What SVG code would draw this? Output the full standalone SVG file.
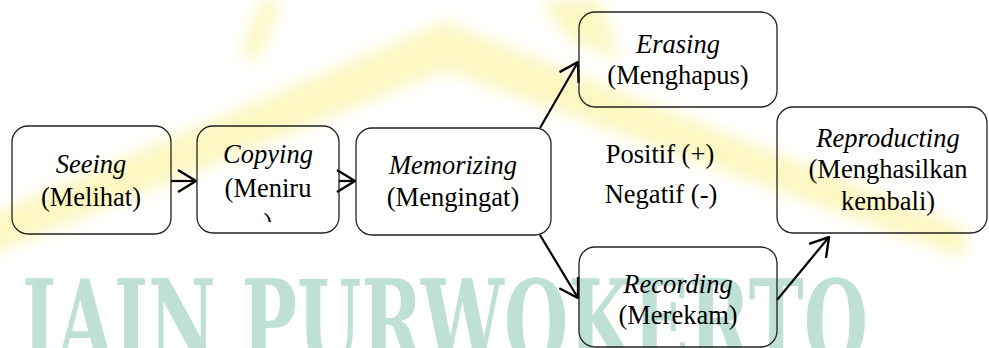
<svg xmlns="http://www.w3.org/2000/svg" width="989" height="348" viewBox="0 0 989 348">
<defs>
<style>
.box{fill:none;stroke:#222;stroke-width:1.3}
.t{font-family:"Liberation Serif","Times New Roman",serif;font-size:26.5px;fill:#000;text-anchor:middle}
.i{font-style:italic}
.c{fill:none;stroke:#000;stroke-width:2.2}
.wm{font-family:"DejaVu Serif","Liberation Serif",serif;font-weight:bold;font-size:115px;fill:#bfe0d6}
</style>
<marker id="ah" viewBox="0 0 20 24" refX="19" refY="12" markerWidth="20" markerHeight="24" markerUnits="userSpaceOnUse" orient="auto">
<path d="M1,1 L19,12 L1,23" fill="none" stroke="#000" stroke-width="2.4"/>
</marker>
<filter id="blur" x="-10%" y="-10%" width="120%" height="120%"><feGaussianBlur stdDeviation="8"/></filter>
<clipPath id="cpCopy"><rect x="197" y="126" width="142" height="96"/></clipPath>
</defs>
<g id="watermark">
<g filter="url(#blur)" fill="#fbf296" opacity="0.6">
<polygon points="-10,215 445,22 965,228 965,258 445,70 -10,255"/>
<polygon points="240,55 262,0 282,0 258,60"/>
<polygon points="540,0 600,0 620,60 570,40"/>
</g>
<text class="wm" x="22" y="362" textLength="846" lengthAdjust="spacingAndGlyphs">IAIN PURWOKERTO</text>
</g>
<g id="connectors">
<line class="c" x1="171" y1="181" x2="196" y2="181" marker-end="url(#ah)"/>
<line class="c" x1="339" y1="181" x2="355" y2="181" marker-end="url(#ah)"/>
<line class="c" x1="540" y1="128" x2="578" y2="62" marker-end="url(#ah)"/>
<line class="c" x1="540" y1="235" x2="578" y2="298" marker-end="url(#ah)"/>
<line class="c" x1="777" y1="300" x2="829" y2="237" marker-end="url(#ah)"/>
</g>
<g id="nodes">
<g id="seeing">
<rect class="box" x="12" y="126" width="159" height="108" rx="16"/>
<text class="t i" x="91" y="173">Seeing</text>
<text class="t" x="91" y="206">(Melihat)</text>
</g>
<g id="copying">
<rect class="box" x="197" y="126" width="142" height="107" rx="16"/>
<text class="t i" x="268" y="163">Copying</text>
<text class="t" x="268" y="197">(Meniru</text>
<text class="t" x="268" y="232" clip-path="url(#cpCopy)">)</text>
</g>
<g id="memorizing">
<rect class="box" x="356" y="128" width="195" height="107" rx="16"/>
<text class="t i" x="453" y="174">Memorizing</text>
<text class="t" x="453" y="206">(Mengingat)</text>
</g>
<g id="erasing">
<rect class="box" x="579" y="12" width="198" height="95" rx="16"/>
<text class="t i" x="678" y="53">Erasing</text>
<text class="t" x="678" y="84">(Menghapus)</text>
</g>
<g id="valence">
<text class="t" x="660" y="163">Positif (+)</text>
<text class="t" x="661" y="203">Negatif (-)</text>
</g>
<g id="reproducting">
<rect class="box" x="777" y="107" width="210" height="126" rx="16"/>
<text class="t i" x="888" y="147">Reproducting</text>
<text class="t" x="888" y="178">(Menghasilkan</text>
<text class="t" x="888" y="210">kembali)</text>
</g>
<g id="recording">
<rect class="box" x="579" y="247" width="198" height="100" rx="16"/>
<text class="t i" x="678" y="293">Recording</text>
<text class="t" x="678" y="324">(Merekam)</text>
</g>
</g>
</svg>
